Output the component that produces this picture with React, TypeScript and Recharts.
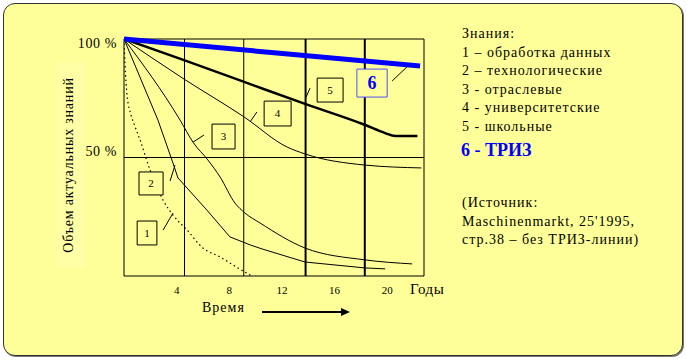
import { LineChart, Line, XAxis, YAxis, ReferenceLine, ReferenceArea } from "recharts";

// Годы (подписи оси) и положение сетки
const yearTicks = [4, 8, 12, 16, 20];
const percentTicks = [50, 100];
const gridYears = [4.6, 9.1, 13.8, 18.3];
const gridThick = [false, false, true, true];
const maxYear = 22.8;

// Кривые устаревания знаний, % актуальных знаний по годам
const curve1 = [
  { x: 0, y: 100 }, { x: 0.08, y: 89 }, { x: 0.23, y: 76.4 }, { x: 0.53, y: 68 },
  { x: 0.84, y: 63 }, { x: 1.22, y: 57.4 }, { x: 1.98, y: 44.7 }, { x: 2.96, y: 32.1 },
  { x: 3.72, y: 25.7 }, { x: 4.79, y: 19.4 }, { x: 6.0, y: 11.8 }, { x: 7.3, y: 8.0 },
  { x: 8.66, y: 3.4 }, { x: 9.7, y: 0 },
];
const curve2 = [
  { x: 0, y: 100 }, { x: 2.58, y: 65.8 }, { x: 3.72, y: 47.7 }, { x: 4.1, y: 41.4 },
  { x: 6.3, y: 27.8 }, { x: 8.05, y: 16.5 }, { x: 9.6, y: 13.1 }, { x: 10.5, y: 11.4 },
  { x: 13.76, y: 5.9 }, { x: 18.33, y: 3.4 }, { x: 19.85, y: 3.0 },
];
const curve3 = [
  { x: 0, y: 100 }, { x: 4.26, y: 65.8 }, { x: 5.24, y: 56.5 }, { x: 6.38, y: 48.9 },
  { x: 7.3, y: 41.8 }, { x: 8.43, y: 30.8 }, { x: 9.19, y: 26.6 }, { x: 10.33, y: 22.4 },
  { x: 13.76, y: 11.8 }, { x: 18.33, y: 6.8 }, { x: 21.9, y: 5.1 },
];
const curve4 = [
  { x: 0, y: 100 }, { x: 4.56, y: 83.1 }, { x: 9.13, y: 67.1 }, { x: 12.4, y: 54.4 },
  { x: 13.76, y: 51.5 }, { x: 18.33, y: 46.8 }, { x: 22.6, y: 45.6 },
];
const curve5 = [
  { x: 0, y: 100 }, { x: 4.56, y: 91.1 }, { x: 9.13, y: 81.9 }, { x: 13.76, y: 72.6 },
  { x: 18.33, y: 63.7 }, { x: 19.85, y: 60.3 }, { x: 20.6, y: 59.1 }, { x: 22.3, y: 59.1 },
];
const curve6 = [
  { x: 0, y: 100 }, { x: 11.2, y: 94.3 }, { x: 22.5, y: 88.6 },
];

// Номера кривых: рамка и выносная линия (в координатах графика)
const markers = [
  { id: "1", x1: 1.0, x2: 2.5, y1: 13.1, y2: 23.2, lead: [2.97, 19.4, 3.73, 26.6] },
  { id: "2", x1: 1.14, x2: 2.97, y1: 34.2, y2: 43.9, lead: [3.5, 40.1, 3.88, 46.8] },
  { id: "3", x1: 6.69, x2: 8.44, y1: 53.6, y2: 64.1, lead: [5.25, 56.5, 6.08, 59.5] },
  { id: "4", x1: 10.65, x2: 12.7, y1: 63.3, y2: 73.8, lead: [9.58, 65, 10.1, 69.2] },
  { id: "5", x1: 14.68, x2: 16.65, y1: 73.4, y2: 83.5, lead: [13.84, 75.5, 14.14, 79.3] },
  { id: "6", x1: 17.7, x2: 20.0, y1: 75.5, y2: 87.3, lead: [20.38, 82.3, 21.5, 88.2] },
];

const legendLines = [
  "Знания:",
  "1 – обработка данных",
  "2 – технологические",
  "3 - отраслевые",
  "4 - университетские",
  "5 - школьные",
];
const sourceLines = ["(Источник:", "Maschinenmarkt, 25'1995,", "стр.38 – без ТРИЗ-линии)"];

const serif = "'Liberation Serif', 'Times New Roman', serif";
const bg = "#ffff99";
const chartMargin = { top: 39, right: 263, bottom: 54, left: 64 };

function YearTick({ x, y, payload }: any) {
  return (
    <text x={x} y={y + 10} textAnchor="middle" fontSize={11} fontFamily={serif} fill="#000">
      {payload.value}
    </text>
  );
}

function PercentTick({ x, y, payload }: any) {
  const dy = payload.value === 100 ? 4 : -6;
  return (
    <text x={x + 1} y={y + dy} dy="0.35em" textAnchor="end" fontSize={14} fontFamily={serif} fill="#000" letterSpacing={0.6}>
      {`${payload.value} %`}
    </text>
  );
}

export default function App() {
  return (
    <div style={{ position: "absolute", left: 0, top: 0, width: 687, height: 360, background: "#fff", fontFamily: serif }}>
      <div
        style={{
          position: "absolute",
          left: 3,
          top: 3,
          width: 678,
          height: 351,
          background: bg,
          border: "1px solid #333",
          borderRadius: 12,
          boxShadow: "1px 1px 0 #777",
        }}
      />
      <div style={{ position: "absolute", left: 56, top: 62, width: 29, height: 206, background: "#ffffa6" }} />
      <div style={{ position: "absolute", left: 0, top: 0 }}>
        <LineChart width={687} height={360} margin={chartMargin}>
          <XAxis
            type="number"
            dataKey="x"
            domain={[0, maxYear]}
            ticks={yearTicks}
            interval={0}
            allowDataOverflow
            axisLine={false}
            tickLine={false}
            height={30}
            tick={<YearTick />}
          />
          <YAxis
            type="number"
            domain={[0, 100]}
            ticks={percentTicks}
            interval={0}
            axisLine={false}
            tickLine={false}
            width={60}
            tick={<PercentTick />}
          />
          <ReferenceArea x1={0} x2={maxYear} y1={0} y2={100} fill="none" stroke="#000" strokeWidth={1} ifOverflow="visible" />
          <ReferenceLine y={50} stroke="#000" strokeWidth={1} />
          {gridYears.map((g, i) => (
            <ReferenceLine key={i} x={g} stroke="#000" strokeWidth={gridThick[i] ? 2 : 1} />
          ))}
          <Line data={curve1} dataKey="y" type="monotone" stroke="#000" strokeWidth={1.2} strokeDasharray="1.5 3" dot={false} isAnimationActive={false} />
          <Line data={curve2} dataKey="y" type="linear" stroke="#000" strokeWidth={1} dot={false} isAnimationActive={false} />
          <Line data={curve3} dataKey="y" type="monotone" stroke="#000" strokeWidth={1} dot={false} isAnimationActive={false} />
          <Line data={curve4} dataKey="y" type="monotone" stroke="#000" strokeWidth={1} dot={false} isAnimationActive={false} />
          <Line data={curve5} dataKey="y" type="monotone" stroke="#000" strokeWidth={2.5} dot={false} isAnimationActive={false} />
          <Line data={curve6} dataKey="y" type="linear" stroke="#0000ff" strokeWidth={5} dot={false} isAnimationActive={false} />
        </LineChart>
      </div>

      {/* второй слой: номера кривых поверх линий */}
      <div style={{ position: "absolute", left: 0, top: 0 }}>
        <LineChart width={687} height={360} margin={chartMargin}>
          <XAxis
            type="number"
            dataKey="x"
            domain={[0, maxYear]}
            allowDataOverflow
            axisLine={false}
            tickLine={false}
            tick={false}
            height={30}
          />
          <YAxis type="number" domain={[0, 100]} axisLine={false} tickLine={false} tick={false} width={60} />
          <Line data={curve6} dataKey="y" stroke="none" strokeOpacity={0} dot={false} isAnimationActive={false} />
          {markers.map((m) => (
            <ReferenceLine
              key={"l" + m.id}
              segment={[{ x: m.lead[0], y: m.lead[1] }, { x: m.lead[2], y: m.lead[3] }]}
              stroke="#000"
              strokeWidth={1}
              ifOverflow="visible"
            />
          ))}
          {markers.map((m) => (
            <ReferenceArea
              key={"b" + m.id}
              x1={m.x1}
              x2={m.x2}
              y1={m.y1}
              y2={m.y2}
              fill={bg}
              fillOpacity={1}
              stroke={m.id === "6" ? "#5050ff" : "#000"}
              strokeWidth={1}
              ifOverflow="visible"
              label={{
                value: m.id,
                position: "center",
                fill: m.id === "6" ? "#0000ff" : "#000",
                fontSize: m.id === "6" ? 18 : 11,
                fontWeight: m.id === "6" ? "bold" : "normal",
                fontFamily: serif,
              }}
            />
          ))}
        </LineChart>
      </div>

      <div
        style={{
          position: "absolute",
          left: 69,
          top: 165,
          transform: "translate(-50%, -50%) rotate(-90deg)",
          whiteSpace: "nowrap",
          fontSize: 14,
          letterSpacing: 0.8,
        }}
      >
        Объем актуальных знаний
      </div>
      <div style={{ position: "absolute", left: 410, top: 281, fontSize: 15, letterSpacing: 0.6 }}>Годы</div>
      <div style={{ position: "absolute", left: 202, top: 300, fontSize: 14, letterSpacing: 1 }}>Время</div>
      <svg style={{ position: "absolute", left: 258, top: 305 }} width={96} height={14}>
        <line x1={4} y1={7} x2={84} y2={7} stroke="#000" strokeWidth={2} />
        <polygon points="83,3 92,7 83,11" fill="#000" />
      </svg>

      <div style={{ position: "absolute", left: 462, top: 25, fontSize: 14, lineHeight: "18.5px", letterSpacing: 1, whiteSpace: "nowrap" }}>
        {legendLines.map((t) => (
          <div key={t}>{t}</div>
        ))}
      </div>
      <div style={{ position: "absolute", left: 461, top: 140, fontSize: 18, fontWeight: "bold", color: "#0000ff", whiteSpace: "nowrap" }}>
        6 - ТРИЗ
      </div>
      <div style={{ position: "absolute", left: 462, top: 194, fontSize: 14, lineHeight: "18.5px", letterSpacing: 1, whiteSpace: "nowrap" }}>
        {sourceLines.map((t) => (
          <div key={t}>{t}</div>
        ))}
      </div>
    </div>
  );
}
